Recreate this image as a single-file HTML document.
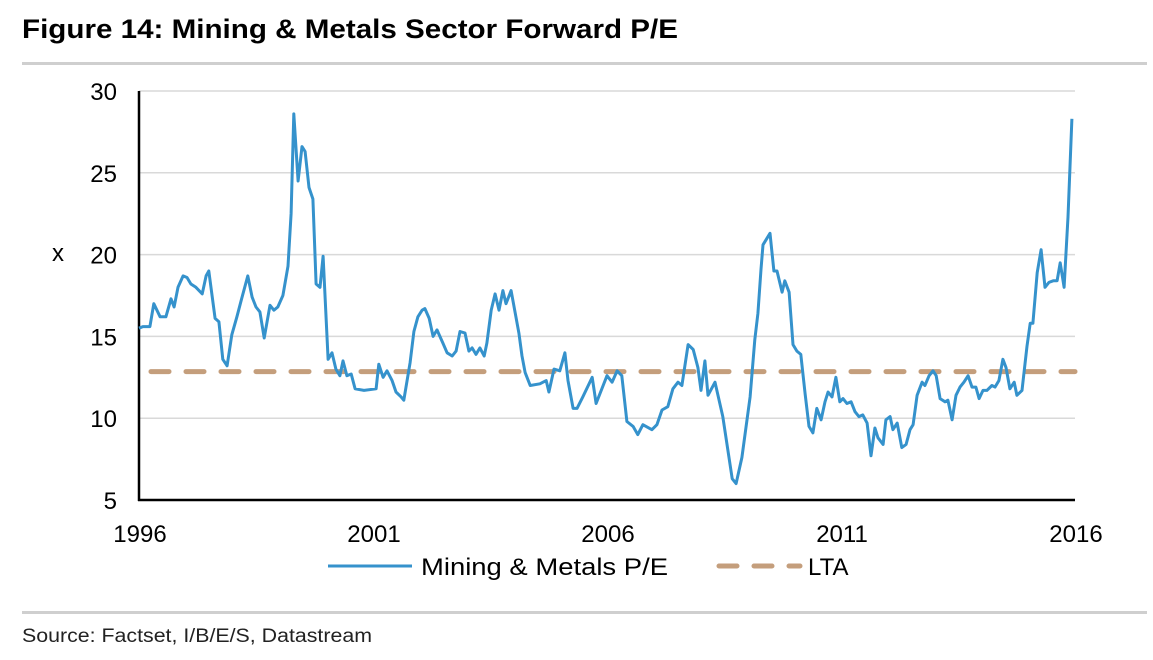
<!DOCTYPE html>
<html><head><meta charset="utf-8"><style>
html,body{margin:0;padding:0;background:#fff;width:1153px;height:660px;overflow:hidden}
svg{display:block;font-family:"Liberation Sans",sans-serif}
</style></head><body>
<svg id="chart" width="1153" height="660">
<text x="22" y="38" font-size="27" font-weight="bold" fill="#000" textLength="656" lengthAdjust="spacingAndGlyphs">Figure 14: Mining &amp; Metals Sector Forward P/E</text>
<rect x="22" y="62" width="1125" height="3" fill="#cfcfcf"/>
<rect x="22" y="611" width="1125" height="3" fill="#cfcfcf"/>
<text x="22" y="642" font-size="19" fill="#222" textLength="350" lengthAdjust="spacingAndGlyphs">Source: Factset, I/B/E/S, Datastream</text>
<g id="grid"></g><g id="axes"></g><g id="marks"></g><g id="legend"></g>
</svg>
<script>
const yTicks=[5,10,15,20,25,30];
const xTickYears=[1996,2001,2006,2011,2016];
const lta=12.85;
const months=[0,1.0,2.8,3.8,5.4,6.9,8.2,9.0,10.0,11.3,12.3,13.3,14.6,16.2,17.2,17.9,19.5,20.5,21.5,22.6,23.8,25.1,26.2,27.9,29.0,30.0,31.0,32.1,33.6,34.6,35.6,36.9,38.2,39.0,39.7,40.8,41.8,42.6,43.6,44.6,45.4,46.4,47.2,48.5,49.5,50.5,51.5,52.3,53.3,54.4,55.4,57.7,60.8,61.5,62.6,63.6,64.9,65.9,67.2,67.9,69.5,70.5,71.5,72.6,73.3,74.4,75.4,76.4,77.9,79.0,80.3,81.3,82.3,83.6,84.6,85.4,86.4,87.4,88.5,89.2,90.3,91.3,92.3,93.3,94.1,95.4,96.4,97.4,98.2,
99.0,100.3,102.8,104.4,105.1,106.4,107.9,109.2,110.0,111.3,112.3,113.8,116.2,117.2,120.0,121.3,122.6,123.8,125.1,126.7,127.9,129.2,131.5,132.8,134.1,135.6,136.9,138.2,139.2,140.8,142.1,143.3,144.1,145.1,145.9,147.7,149.7,152.1,153.1,154.6,156.7,157.9,158.7,159.5,160.0,
161.8,162.8,163.6,164.9,165.6,166.7,167.7,168.7,169.7,170.8,171.8,172.8,173.8,174.9,175.9,176.7,177.7,178.7,179.7,180.5,181.5,182.6,183.6,184.6,185.6,186.7,187.7,188.7,189.5,190.8,191.5,192.6,193.3,194.4,195.6,196.7,197.7,198.5,199.5,200.8,201.5,202.6,203.6,204.4,205.4,206.7,207.4,208.5,209.5,210.5,211.5,212.6,213.6,214.6,215.4,216.4,217.4,218.7,219.5,220.5,221.5,222.3,223.3,224.4,225.1,226.4,227.7,228.5,229.2,230.3,231.3,232.3,233.3,234.4,235.4,236.2,237.2,238.2,239.2];
const peValues=[15.5,15.6,15.6,17.0,16.2,16.2,17.3,16.8,18.0,18.7,18.6,18.2,18.0,17.6,18.7,19.0,16.1,15.9,13.6,13.2,15.1,16.2,17.2,18.7,17.4,16.8,16.5,14.9,16.9,16.6,16.8,17.5,19.3,22.5,28.6,24.5,26.6,26.3,24.1,23.4,18.2,18.0,19.9,13.6,14.0,13.0,12.6,13.5,12.6,12.7,11.8,11.7,11.8,13.3,12.5,12.9,12.3,11.6,11.3,11.1,13.4,15.3,16.2,16.6,16.7,16.1,15.0,15.4,14.6,14.0,13.8,14.1,15.3,15.2,14.1,14.3,13.9,14.3,13.8,14.6,16.6,17.6,16.6,17.8,17.0,17.8,16.5,15.2,13.8,
12.8,12.0,12.1,12.3,11.6,13.0,12.9,14.0,12.3,10.6,10.6,11.3,12.5,10.9,12.6,12.2,12.9,12.6,9.8,9.5,9.0,9.6,9.3,9.6,10.5,10.7,11.8,12.2,12.0,14.5,14.2,13.1,11.7,13.5,11.4,12.2,10.1,6.3,6.0,7.6,11.3,14.8,16.4,19.1,20.6,
21.3,19.0,19.0,17.7,18.4,17.7,14.5,14.1,13.9,11.5,9.5,9.1,10.6,9.9,11.0,11.6,11.3,12.5,11.0,11.2,10.9,11.0,10.4,10.1,10.2,9.7,7.7,9.4,8.8,8.4,9.9,10.1,9.3,9.7,8.2,8.4,9.3,9.6,11.4,12.2,12.0,12.6,12.9,12.6,11.2,11.0,11.1,9.9,11.4,11.9,12.2,12.6,11.9,11.9,11.2,11.7,11.7,12.0,11.9,12.3,13.6,13.1,11.8,12.2,11.4,11.7,14.4,15.8,15.8,18.9,20.3,18.0,18.3,18.4,18.4,19.5,18.0,22.3,28.3];

const NS='http://www.w3.org/2000/svg';
const X0=139,X1=1075,Y0=500,Y1=91;
function xScale(m){return X0+(m/240)*(X1-X0);}
function yScale(v){return Y0-(v-5)/25*(Y0-Y1);}
function mk(tag,attrs,parent){const e=document.createElementNS(NS,tag);for(const k in attrs)e.setAttribute(k,attrs[k]);parent.appendChild(e);return e;}
const grid=document.getElementById('grid'),axes=document.getElementById('axes'),marks=document.getElementById('marks'),legend=document.getElementById('legend');
yTicks.forEach(t=>{
  if(t>5){const g=mk('line',{x1:X0,x2:X1,y1:yScale(t),y2:yScale(t),stroke:'#d9d9d9','stroke-width':1.5},grid);
  
  }
  const l=mk('text',{x:117,y:yScale(t)+9,'font-size':24,'text-anchor':'end',fill:'#000'},axes);l.textContent=t;
  
  
});
xTickYears.forEach(y=>{
  const l=mk('text',{x:xScale((y-1996)*12)+1,y:542,'font-size':24,'text-anchor':'middle',fill:'#000'},axes);l.textContent=y;
  
  
});
const yt=mk('text',{x:58,y:261,'font-size':24,'text-anchor':'middle',fill:'#000'},axes);yt.textContent='x';


const ya=mk('line',{x1:X0,x2:X0,y1:Y1,y2:Y0+1,stroke:'#000','stroke-width':2.5},axes);


const xa=mk('line',{x1:X0-1,x2:X1,y1:Y0,y2:Y0,stroke:'#000','stroke-width':2.5},axes);


const ltaLine=mk('line',{x1:X0+12,x2:X1,y1:yScale(lta),y2:yScale(lta),stroke:'#c49e7c','stroke-width':5,'stroke-dasharray':'18 17','stroke-linecap':'round'},marks);


const pts=months.map((m,i)=>xScale(m).toFixed(1)+','+yScale(peValues[i]).toFixed(1)).join(' ');
const pe=mk('polyline',{points:pts,fill:'none',stroke:'#3592cc','stroke-width':3,'stroke-linejoin':'round'},marks);


const l1=mk('line',{x1:328,x2:412,y1:566,y2:566,stroke:'#3592cc','stroke-width':3},legend);


const t1=mk('text',{x:421,y:575,'font-size':24,fill:'#000',textLength:247,lengthAdjust:'spacingAndGlyphs'},legend);t1.textContent='Mining & Metals P/E';


const l2=mk('line',{x1:719,x2:800,y1:566,y2:566,stroke:'#c49e7c','stroke-width':5,'stroke-dasharray':'18 17','stroke-linecap':'round'},legend);


const t2=mk('text',{x:808,y:575,'font-size':24,fill:'#000'},legend);t2.textContent='LTA';


</script>
</body></html>
